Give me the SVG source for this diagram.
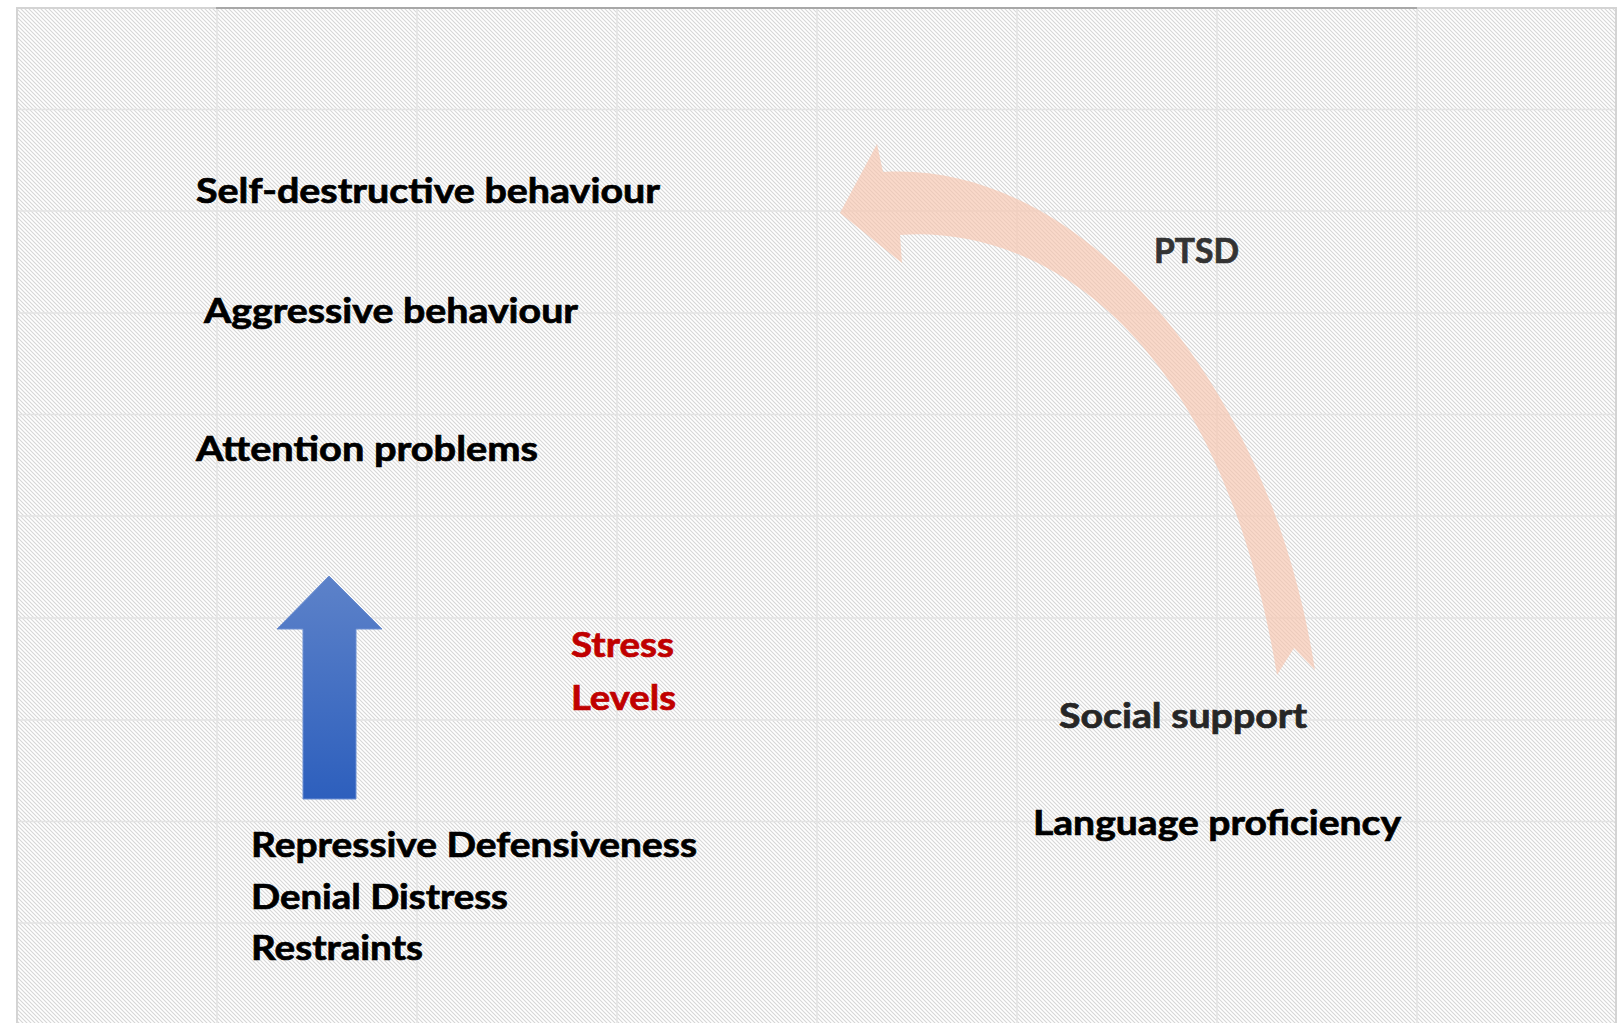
<svg xmlns="http://www.w3.org/2000/svg" width="1624" height="1023" viewBox="0 0 1624 1023">
<defs>
<pattern id="hatch" patternUnits="userSpaceOnUse" width="4" height="4">
<rect width="4" height="4" fill="#ffffff"/>
<path d="M-1,3 L1,5 M0,0 L4,4 M3,-1 L5,1" stroke="#d6d6d6" stroke-width="1.1"/>
</pattern>
<linearGradient id="blueGrad" x1="0" y1="0" x2="0" y2="1">
<stop offset="0" stop-color="#5d82c9"/>
<stop offset="1" stop-color="#2d5fbd"/>
</linearGradient>
<style>
.t{font-family:Lato,"Open Sans","Liberation Sans",sans-serif;font-weight:700;font-size:35px;fill:#000;stroke:#000;stroke-width:0.7px}
.red{fill:#c00000;stroke:#c00000}
.dark{fill:#333333;stroke:#333333}
.grid{stroke:#e3e3e3;stroke-width:1.5;fill:none}
</style>
</defs>
<rect width="1624" height="1023" fill="#ffffff"/>
<rect x="17" y="8" width="1599" height="1015" fill="url(#hatch)"/>
<g id="grid" class="grid">
<path d="M217,8V1023 M417,8V1023 M617,8V1023 M817,8V1023 M1017,8V1023 M1217,8V1023 M1417,8V1023"/>
<path d="M17,109.5H1616 M17,211H1616 M17,313H1616 M17,414.5H1616 M17,516H1616 M17,618H1616 M17,720H1616 M17,821.5H1616 M17,923H1616"/>
</g>
<g id="border">
<path d="M17,1023V8H1616V1023" fill="none" stroke="#d4d4d4" stroke-width="2"/>
<path d="M216,8H1417" stroke="#a8a8a8" stroke-width="2"/>
</g>
<g id="connectors">
<path id="ptsd-arrow" d="M840,213 L877,144 L883,172 C1080,160 1270,380 1315,670 L1294,648 L1277,675 C1220,330 1040,225 900,235 L902,263 Z" fill="#f8c4ad" fill-opacity="0.65"/>
<path id="stress-arrow" d="M329,576 L382,629 L356,629 L356,799 L303,799 L303,629 L277,629 Z" fill="url(#blueGrad)" stroke="#6d8fd2" stroke-width="1"/>
</g>
<g id="self-destructive"><text class="t" x="196" y="203" textLength="464" lengthAdjust="spacingAndGlyphs">Self-destructive behaviour</text></g>
<g id="aggressive"><text class="t" x="204" y="323" textLength="374" lengthAdjust="spacingAndGlyphs">Aggressive behaviour</text></g>
<g id="attention"><text class="t" x="196" y="461" textLength="342" lengthAdjust="spacingAndGlyphs">Attention problems</text></g>
<g id="stress-levels">
<text class="t red" x="571" y="657" textLength="103" lengthAdjust="spacingAndGlyphs">Stress</text>
<text class="t red" x="571" y="710" textLength="105" lengthAdjust="spacingAndGlyphs">Levels</text>
</g>
<g id="ptsd"><text class="t dark" x="1154" y="263" textLength="85" lengthAdjust="spacingAndGlyphs">PTSD</text></g>
<g id="social-support"><text class="t" x="1059" y="728" textLength="248" lengthAdjust="spacingAndGlyphs" style="fill:#262626;stroke:#262626">Social support</text></g>
<g id="language"><text class="t" x="1033" y="835" textLength="368" lengthAdjust="spacingAndGlyphs">Language proficiency</text></g>
<g id="defences">
<text class="t" x="251" y="857" textLength="446" lengthAdjust="spacingAndGlyphs">Repressive Defensiveness</text>
<text class="t" x="251" y="909" textLength="257" lengthAdjust="spacingAndGlyphs">Denial Distress</text>
<text class="t" x="251" y="960" textLength="172" lengthAdjust="spacingAndGlyphs">Restraints</text>
</g>
</svg>
